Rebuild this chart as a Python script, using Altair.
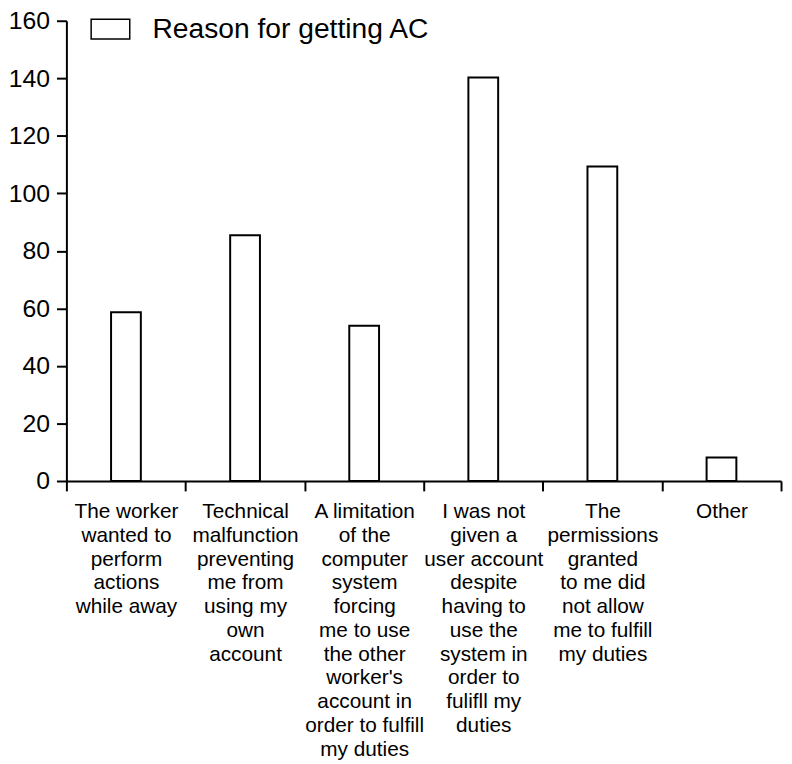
import altair as alt
import pandas as pd

categories = [
    "The worker|wanted to|perform|actions|while away",
    "Technical|malfunction|preventing|me from|using my|own|account",
    "A limitation|of the|computer|system|forcing|me to use|the other|worker's|account in|order to fulfill|my duties",
    "I was not|given a|user account|despite|having to|use the|system in|order to|fulifll my|duties",
    "The|permissions|granted|to me did|not allow|me to fulfill|my duties",
    "Other",
]
values = [58.7, 85.4, 54.0, 140.3, 109.3, 8.2]
series_name = "Reason for getting AC"
y_ticks = [0, 20, 40, 60, 80, 100, 120, 140, 160]

df = pd.DataFrame({"category": categories, "value": values, "series": [series_name] * len(categories)})

FONT = "Liberation Sans"

chart = alt.Chart(df).mark_bar(
    stroke="black", strokeWidth=2, width=alt.RelativeBandSize(0.25)
).encode(
    x=alt.X(
        "category:N",
        sort=None,
        scale=alt.Scale(paddingInner=0, paddingOuter=0),
        axis=alt.Axis(
            title=None,
            labelAngle=0,
            labelExpr="split(datum.label, '|')",
            labelFont=FONT,
            labelFontSize=21,
            labelLineHeight=24,
            labelColor="black",
            labelAlign="center",
            labelBaseline="top",
            labelPadding=10,
            labelLimit=0,
            tickBand="extent",
            tickSize=10,
            tickWidth=2,
            tickColor="black",
            domainColor="black",
            domainWidth=2,
            grid=False,
        ),
    ),
    y=alt.Y(
        "value:Q",
        scale=alt.Scale(domain=[0, 160], nice=False),
        axis=alt.Axis(
            title=None,
            values=y_ticks,
            labelFont=FONT,
            labelFontSize=25,
            labelColor="black",
            labelPadding=7,
            tickSize=10,
            tickWidth=2,
            tickColor="black",
            domainColor="black",
            domainWidth=2,
            grid=False,
        ),
    ),
    fill=alt.Fill(
        "series:N",
        scale=alt.Scale(range=["white"]),
        legend=alt.Legend(
            title=None,
            orient="none",
            legendX=24,
            legendY=-12,
            padding=0,
            symbolType="M-1,-0.513H1V0.513H-1Z",
            symbolSize=1521,
            symbolStrokeColor="black",
            symbolStrokeWidth=1.5,
            labelFont=FONT,
            labelFontSize=28.5,
            labelColor="black",
            labelOffset=22,
            labelLimit=0,
        ),
    ),
).properties(
    width=722,
    height=465,
    autosize=alt.AutoSizeParams(type="none"),
    padding={"left": 59, "top": 9, "right": 3, "bottom": 278},
).configure_view(stroke=None)

chart.save("out.html", embed_options={"renderer": "svg", "actions": False})
